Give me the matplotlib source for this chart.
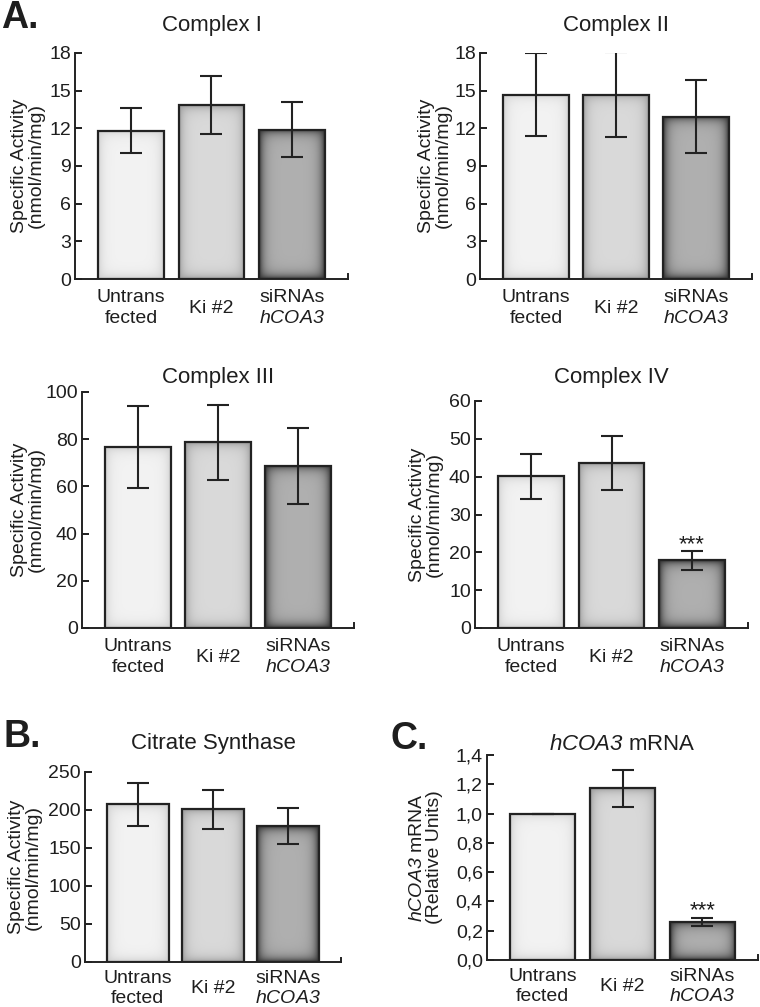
import numpy as np
import matplotlib
matplotlib.use('Agg')
import matplotlib.pyplot as plt
from matplotlib.colors import to_rgb
from matplotlib.ticker import FuncFormatter

plt.rcParams['font.family'] = ['Liberation Sans', 'DejaVu Sans']
# only the gene name is written in math mode, so make all of it italic
plt.rcParams['mathtext.fontset'] = 'custom'
plt.rcParams['mathtext.rm'] = 'Liberation Sans:italic'
plt.rcParams['mathtext.it'] = 'Liberation Sans:italic'
plt.rcParams['text.color'] = '#1e1e1e'
plt.rcParams['axes.labelcolor'] = '#1e1e1e'
plt.rcParams['xtick.color'] = '#1e1e1e'
plt.rcParams['ytick.color'] = '#1e1e1e'

groups = ['Untrans\nfected', 'Ki #2', 'siRNAs\n$hCOA3$']

c1_mean = [11.8, 13.85, 11.9]
c1_err = [1.8, 2.3, 2.2]
c2_mean = [14.67, 14.67, 12.92]
c2_err = [3.3, 3.4, 2.9]
c3_mean = [76.6, 78.7, 68.7]
c3_err = [17.3, 16.0, 16.0]
c4_mean = [40.1, 43.6, 17.85]
c4_err = [6.0, 7.2, 2.4]
cs_mean = [207.5, 200.9, 178.5]
cs_err = [28.5, 26.0, 23.5]
mrna_mean = [1.0, 1.172, 0.262]
mrna_err = [0.0, 0.124, 0.028]

# centre / edge grey of the shaded bars
bar_center = ['#f3f3f3', '#dadada', '#b0b0b0']
bar_edge = ['#cdcdcd', '#9a9a9a', '#2e2e2e']
line_col = '#222222'

fig = plt.figure(figsize=(7.6, 10.07), dpi=100)
W, H = 760, 1007


def make_ax(left, right, top, bottom):
    return fig.add_axes([left / W, 1 - bottom / H, (right - left) / W, (bottom - top) / H])


def shade(ax, bar, c0, c1, fade=4.5):
    x0, y0 = bar.get_x(), bar.get_y()
    w, h = bar.get_width(), bar.get_height()
    (px0, py0), (px1, py1) = ax.transData.transform([(x0, y0), (x0 + w, y0 + h)])
    nx = max(int(abs(px1 - px0)), 2)
    ny = max(int(abs(py1 - py0)), 2)
    xx = np.arange(nx) + 0.5
    yy = np.arange(ny) + 0.5
    dx = np.minimum(xx, nx - xx)[None, :]
    dy = np.minimum(yy, ny - yy)[:, None]
    t = 1 - (1 - np.exp(-dx / fade)) * (1 - np.exp(-dy / fade))
    a = np.array(to_rgb(c0))
    b = np.array(to_rgb(c1))
    img = a[None, None, :] + (b - a)[None, None, :] * t[:, :, None]
    im = ax.imshow(img, extent=(x0, x0 + w, y0, y0 + h), origin='lower',
                   aspect='auto', zorder=1.5, interpolation='bilinear')
    im.set_clip_path(bar)


def panel(ax, means, errs, ymax, step, title, title_pad, ylabel, label_x,
          stars=False, fmt=None, xpad=21, lsp=1.3):
    ax.set_xlim(-0.7, 2.7)
    ax.set_ylim(0, ymax)
    x = np.arange(len(means))
    bars = ax.bar(x, means, width=0.82, facecolor='none', edgecolor=line_col,
                  linewidth=1.6, zorder=2)
    for i, b in enumerate(bars):
        shade(ax, b, bar_center[i], bar_edge[i])
    ax.set_xlim(-0.7, 2.7)
    ax.set_ylim(0, ymax)
    ax.errorbar(x, means, yerr=errs, fmt='none', ecolor=line_col,
                elinewidth=1.5, capsize=8, capthick=1.5, zorder=3)
    if stars:
        ax.annotate('***', (2, means[2] + errs[2]), xytext=(0, 1),
                    textcoords='offset points', ha='center', va='baseline',
                    fontsize=16)
    ax.spines['top'].set_visible(False)
    ax.spines['right'].set_visible(False)
    for s in ['left', 'bottom']:
        ax.spines[s].set_linewidth(1.4)
        ax.spines[s].set_color(line_col)
    ax.plot([1, 1], [0, 0.022], transform=ax.transAxes, color=line_col,
            lw=1.4, clip_on=False)
    ax.set_yticks(np.arange(0, ymax + step / 2, step))
    if fmt:
        ax.yaxis.set_major_formatter(FuncFormatter(fmt))
    ax.tick_params(axis='y', direction='in', length=5, width=1.4, pad=3,
                   labelsize=14)
    ax.set_xticks(x)
    ax.set_xticklabels(groups, fontsize=14, linespacing=lsp)
    ax.tick_params(axis='x', length=0, pad=xpad)
    for lab in ax.get_xticklabels():
        lab.set_verticalalignment('center')
    ax.set_title(title, fontsize=16, pad=title_pad)
    ax.set_ylabel(ylabel, fontsize=14, linespacing=1.0)
    ax.yaxis.set_label_coords(label_x, 0.5)


sa = 'Specific Activity\n(nmol/min/mg)'

ax1 = make_ax(75, 348, 53, 279)
panel(ax1, c1_mean, c1_err, 18, 3, 'Complex I', 16, sa, -0.11)
ax2 = make_ax(480, 752, 53, 279)
panel(ax2, c2_mean, c2_err, 18, 3, 'Complex II', 16, sa, -0.103)
ax3 = make_ax(82, 354, 392, 628)
panel(ax3, c3_mean, c3_err, 100, 20, 'Complex III', 6.5, sa, -0.136)
ax4 = make_ax(475, 748, 401, 628)
panel(ax4, c4_mean, c4_err, 60, 10, 'Complex IV', 13, sa, -0.117, stars=True)
ax5 = make_ax(85, 341, 772, 962)
panel(ax5, cs_mean, cs_err, 250, 50, 'Citrate Synthase', 16.5, sa, -0.168,
      xpad=19, lsp=1.2)
ax6 = make_ax(487, 758, 755, 960)
panel(ax6, mrna_mean, mrna_err, 1.4, 0.2, '$hCOA3$ mRNA', 3.6,
      '$hCOA3$ mRNA\n(Relative Units)', -0.162, stars=True,
      fmt=lambda v, p: f'{v:.1f}'.replace('.', ','), xpad=19, lsp=1.2)

fig.text(1 / W, 1 - 28 / H, 'A.', fontsize=27, fontweight='bold', va='baseline')
fig.text(4 / W, 1 - 747 / H, 'B.', fontsize=27, fontweight='bold', va='baseline')
fig.text(391 / W, 1 - 749 / H, 'C.', fontsize=27, fontweight='bold', va='baseline')

fig.savefig('out.png', dpi=100, facecolor='white')
